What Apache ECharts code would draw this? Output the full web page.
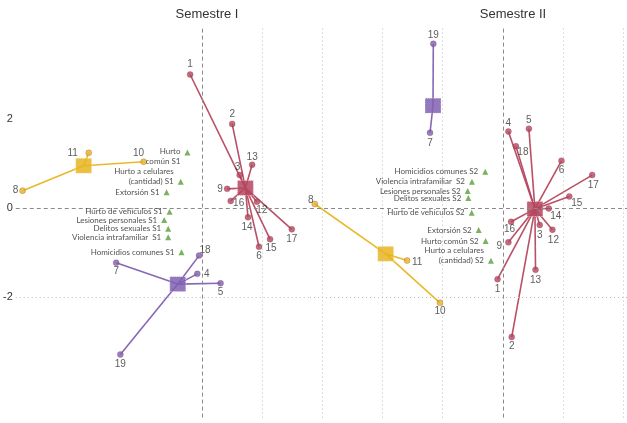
<!DOCTYPE html>
<html><head><meta charset="utf-8">
<script src="https://cdn.jsdelivr.net/npm/echarts@6/dist/echarts.min.js"></script>
<style>html,body{margin:0;padding:0;background:#fff}#c{width:627px;height:423px}</style>
</head><body><div id="c"></div>
<script>
// ---------- DATA ----------
const panelTitles = ['Semestre I', 'Semestre II'];
const yTickValues = [-2, 0, 2];

// Semestre I
const s1RedIds = [1, 2, 3, 6, 9, 12, 13, 14, 15, 16, 17];
const s1RedX = [-0.21, 0.495, 0.62, 0.945, 0.41, 0.91, 0.83, 0.76, 1.13, 0.47, 1.495];
const s1RedY = [3.01, 1.90, 0.75, -0.86, 0.44, 0.15, 0.98, -0.20, -0.69, 0.17, -0.47];
const s1RedCenter = [0.717, 0.461];

const s1YellowIds = [8, 10, 11];
const s1YellowX = [-3.02, -0.99, -1.91];
const s1YellowY = [0.40, 1.05, 1.25];
const s1YellowCenter = [-1.995, 0.96];

const s1PurpleIds = [4, 5, 7, 18, 19];
const s1PurpleX = [-0.09, 0.30, -1.45, -0.06, -1.38];
const s1PurpleY = [-1.47, -1.68, -1.22, -1.06, -3.28];
const s1PurpleCenter = [-0.417, -1.70];

const s1Categories = ['Hurto común S1', 'Hurto a celulares (cantidad) S1', 'Extorsión S1', 'Hurto de vehículos S1',
  'Lesiones personales S1', 'Delitos sexuales S1', 'Violencia intrafamiliar  S1', 'Homicidios comunes S1'];
const s1CatX = [-0.255, -0.367, -0.605, -0.555, -0.645, -0.578, -0.578, -0.355];
const s1CatY = [1.26, 0.60, 0.364, -0.072, -0.258, -0.454, -0.647, -0.984];

// Semestre II
const s2RedIds = [1, 2, 3, 4, 5, 6, 9, 12, 13, 14, 15, 16, 17, 18];
const s2RedX = [-0.09, 0.145, 0.61, 0.09, 0.43, 0.97, 0.09, 0.82, 0.54, 0.76, 1.10, 0.135, 1.48, 0.215];
const s2RedY = [-1.59, -2.89, -0.37, 1.73, 1.79, 1.07, -0.76, -0.48, -1.38, 0.0, 0.27, -0.30, 0.75, 1.40];
const s2RedCenter = [0.53, -0.01];

const s2YellowIds = [8, 10, 11];
const s2YellowX = [-3.12, -1.045, -1.59];
const s2YellowY = [0.10, -2.12, -1.17];
const s2YellowCenter = [-1.945, -1.02];

const s2PurpleIds = [7, 19];
const s2PurpleX = [-1.21, -1.155];
const s2PurpleY = [1.70, 3.70];
const s2PurpleCenter = [-1.16, 2.31];

const s2Categories = ['Homicidios comunes S2', 'Violencia intrafamiliar  S2', 'Lesiones personales S2', 'Delitos sexuales S2',
  'Hurto de vehículos S2', 'Extorsión S2', 'Hurto común S2', 'Hurto a celulares (cantidad) S2'];
const s2CatX = [-0.294, -0.514, -0.585, -0.575, -0.519, -0.403, -0.287, -0.199];
const s2CatY = [0.827, 0.602, 0.393, 0.236, -0.094, -0.483, -0.730, -1.173];

// ---------- STYLE ----------
const RED = '#b5475f', YELLOW = '#e8b420', PURPLE = '#8060b2', GREEN = '#5a9e3a';
const numFont = "'Liberation Sans', Arial, sans-serif";
const catFont = "Lato, 'Liberation Sans', sans-serif";

const lblOff = {
  s1red: {1:[0,-10],2:[0,-10],3:[-2,-8],6:[0,9.5],9:[-7,0],12:[5,8],13:[0,-8],14:[-1,10],15:[1,9],16:[8,2],17:[0,9.5]},
  s1yellow: {8:[-7,0],10:[-5,-8],11:[-16,0]},
  s1purple: {4:[9.5,0],5:[0,9.5],7:[0,9],18:[6,-5],19:[0,10]},
  s2red: {1:[0,10],2:[0,9],3:[0,10],4:[0,-8.5],5:[0,-8.5],6:[0,9.5],9:[-9,4],12:[1,10],13:[0,10],14:[7,7.5],15:[7.5,6.5],16:[-1.5,7.5],17:[1,10.5],18:[7,6]},
  s2yellow: {8:[-4,-4],10:[0,8.5],11:[10,1.5]},
  s2purple: {7:[0,10],19:[0,-8.5]}
};
const catWrap = {
  'Hurto común S1': {text: 'Hurto\ncomún S1', off: [0, 4.5]},
  'Hurto a celulares (cantidad) S1': {text: 'Hurto a celulares\n(cantidad) S1', off: [0, -5]},
  'Hurto a celulares (cantidad) S2': {text: 'Hurto a celulares\n(cantidad) S2', off: [0, -5.5]}
};

function star(gi, key, ids, xs, ys, center, color) {
  const out = [];
  out.push({
    type: 'lines', coordinateSystem: 'cartesian2d', xAxisIndex: gi, yAxisIndex: gi, silent: true, z: 3,
    lineStyle: {color: color, width: 1.6, opacity: 0.95},
    data: ids.map((id, i) => ({coords: [center, [xs[i], ys[i]]]}))
  });
  out.push({
    type: 'scatter', xAxisIndex: gi, yAxisIndex: gi, z: 4, symbol: 'rect', symbolSize: [16, 15],
    itemStyle: {color: color, opacity: 0.85, borderColor: 'rgba(255,255,255,0.6)', borderWidth: 1, borderType: 'dotted'},
    data: [center]
  });
  out.push({
    type: 'scatter', xAxisIndex: gi, yAxisIndex: gi, z: 5, symbol: 'circle', symbolSize: 6,
    itemStyle: {color: color, borderColor: 'rgba(120,30,50,0.5)', borderWidth: 0.6},
    label: {show: true, position: 'inside', formatter: '{b}', color: '#333', fontSize: 10, fontFamily: numFont},
    data: ids.map((id, i) => ({name: String(id), value: [xs[i], ys[i]], label: {offset: lblOff[key][id] || [0, 0]}}))
  });
  return out;
}

function cats(gi, names, xs, ys) {
  return {
    type: 'scatter', xAxisIndex: gi, yAxisIndex: gi, z: 6, symbol: 'triangle', symbolSize: [6, 6],
    itemStyle: {color: GREEN},
    label: {show: true, position: 'left', distance: 4, color: '#222', fontSize: 8, lineHeight: 10,
      fontFamily: catFont, align: 'right'},
    data: names.map((n, i) => {
      const w = catWrap[n];
      return {name: n, value: [xs[i], ys[i]],
        label: {formatter: w ? w.text : n, offset: w ? w.off : [0, 0]}};
    })
  };
}

function gridLines(gi, xDotted, xDashed) {
  const dash = {color: '#8a8a8a', type: [4, 3], width: 1};
  const dot = {color: '#bdbdbd', type: [1, 3], width: 1};
  return {
    type: 'scatter', xAxisIndex: gi, yAxisIndex: gi, data: [], silent: true, z: 1,
    markLine: {
      silent: true, symbol: 'none', animation: false, label: {show: false},
      data: [
        ...xDotted.map(v => ({xAxis: v, lineStyle: dot})),
        ...xDashed.map(v => ({xAxis: v, lineStyle: dash})),
        {yAxis: 0, lineStyle: dash},
        {yAxis: -2, lineStyle: dot}
      ]
    }
  };
}

const yCommon = {type: 'value', min: -4.7, max: 4.1, splitLine: {show: false}, axisLine: {show: false}, axisTick: {show: false}};
const xCommon = {type: 'value', splitLine: {show: false}, axisLine: {show: false}, axisTick: {show: false}, axisLabel: {show: false}};

const option = {
  animation: false,
  backgroundColor: '#fff',
  title: [
    {text: panelTitles[0], left: 202, top: 3, textAlign: 'center', textStyle: {fontSize: 13, fontWeight: 'normal', color: '#333', fontFamily: numFont}},
    {text: panelTitles[1], left: 508, top: 3, textAlign: 'center', textStyle: {fontSize: 13, fontWeight: 'normal', color: '#333', fontFamily: numFont}}
  ],
  grid: [
    {left: 14, top: 26, width: 296, height: 391.6, containLabel: false},
    {left: 310, top: 26, width: 317, height: 391.6, containLabel: false}
  ],
  xAxis: [
    Object.assign({gridIndex: 0, min: -3.1333, max: 1.8}, xCommon),
    Object.assign({gridIndex: 1, min: -3.2, max: 2.057}, xCommon)
  ],
  yAxis: [
    Object.assign({gridIndex: 0, axisLabel: {show: true, customValues: yTickValues, margin: 3, color: '#333', fontSize: 11, fontFamily: numFont}}, yCommon),
    Object.assign({gridIndex: 1, axisLabel: {show: false}}, yCommon)
  ],
  series: [
    gridLines(0, [1], [0]),
    gridLines(1, [-3, -2, -1, 1, 2], [0]),
    ...star(0, 's1red', s1RedIds, s1RedX, s1RedY, s1RedCenter, RED),
    ...star(0, 's1yellow', s1YellowIds, s1YellowX, s1YellowY, s1YellowCenter, YELLOW),
    ...star(0, 's1purple', s1PurpleIds, s1PurpleX, s1PurpleY, s1PurpleCenter, PURPLE),
    ...star(1, 's2red', s2RedIds, s2RedX, s2RedY, s2RedCenter, RED),
    ...star(1, 's2yellow', s2YellowIds, s2YellowX, s2YellowY, s2YellowCenter, YELLOW),
    ...star(1, 's2purple', s2PurpleIds, s2PurpleX, s2PurpleY, s2PurpleCenter, PURPLE),
    cats(0, s1Categories, s1CatX, s1CatY),
    cats(1, s2Categories, s2CatX, s2CatY)
  ]
};
const chart = echarts.init(document.getElementById('c'), null, {renderer: 'canvas'});
chart.setOption(option);
</script></body></html>
